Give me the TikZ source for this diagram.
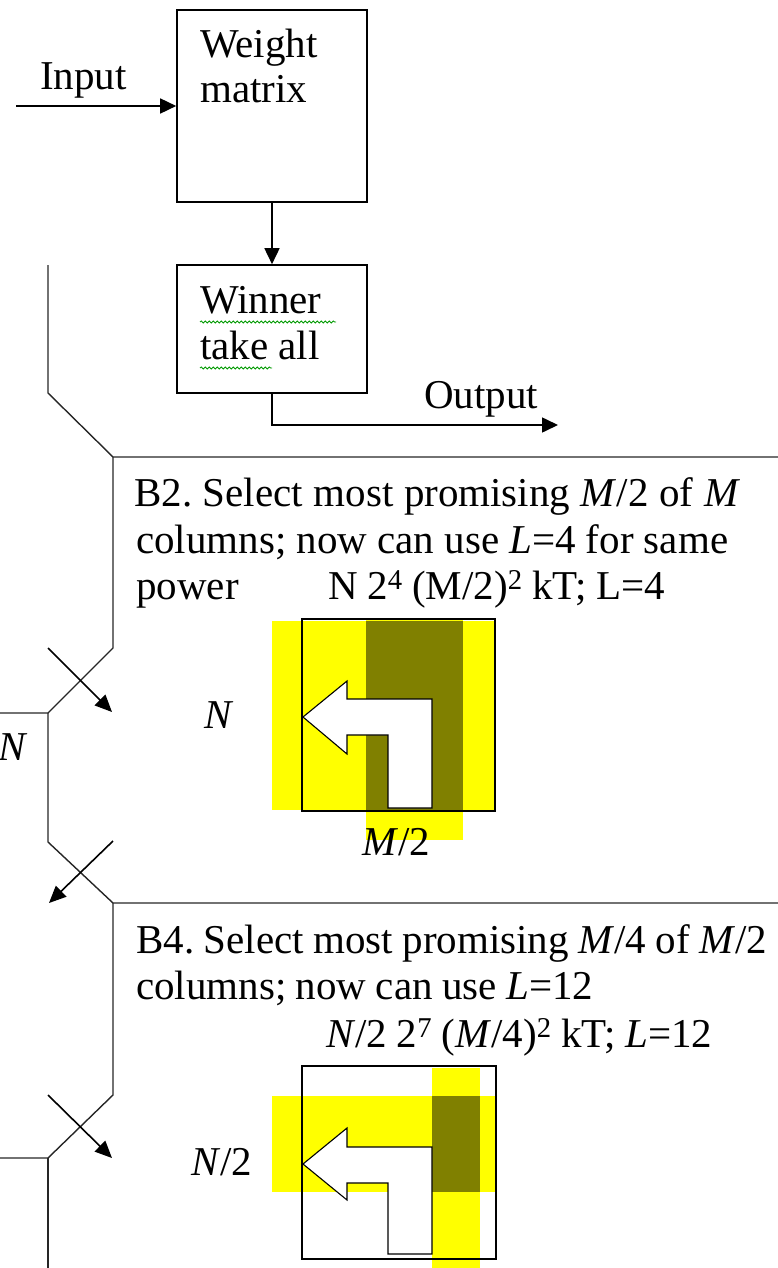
\documentclass[tikz,border=0pt]{standalone}
\usepackage{fontspec}
\setmainfont{Liberation Serif}
\newfontfamily\tnr{Liberation Serif}
\usetikzlibrary{arrows.meta,decorations.pathmorphing}
\definecolor{ylw}{RGB}{255,255,0}
\definecolor{olv}{RGB}{128,128,0}
\frenchspacing
\newcommand{\fitline}[2]{\makebox[#1][s]{#2}}
\begin{document}
\begin{tikzpicture}[x=1pt,y=-1pt,
  box/.style={draw,line width=1.6pt,inner sep=0pt,rectangle},
  lbl/.style={anchor=base west,inner sep=0pt,font=\tnr\fontsize{41}{41}\selectfont},
  ilbl/.style={anchor=base west,inner sep=0pt,font=\tnr\fontsize{41}{41}\selectfont\itshape},
  wire/.style={line width=1.4pt,black!85,line join=miter},
  conn/.style={line width=1.6pt,-{Triangle[length=16pt,width=15pt]}},
  xarrow/.style={line width=1.6pt,-{Triangle[length=17pt,width=15pt]}},
  turn/.style={draw=black,line width=1.1pt,fill=white,line join=miter},
  squig/.style={draw=green!60!black,line width=0.8pt,decorate,decoration={snake,amplitude=1.1pt,segment length=4pt}}
]
\useasboundingbox (0,0) rectangle (777,1268);

% ---- top: weight matrix and winner take all ----
\node[box,minimum width=190pt,minimum height=192pt] (weight) at (272,106) {};
\node[box,minimum width=190pt,minimum height=128pt] (winner) at (272,329) {};
\node[lbl] (tw1) at (200,58) {Weight};
\node[lbl] (tw2) at (200,103) {matrix};
\node[lbl] (tn1) at (200,313) {Winner};
\node[lbl] (tn2) at (200,359) {take all};
\draw[squig] (200,322) -- (336,322);
\draw[squig] (200,368) -- (272,368);
\node[lbl] (tin) at (40,90) {Input};
\node[lbl] (tout) at (424,408) {Output};
\coordinate (inp) at (16,106);
\coordinate (outp) at (558,425);
\draw[conn] (inp) -- (weight.west);
\draw[conn] (weight.south) -- (winner.north);
\draw[conn] (winner.south) |- (outp);

% ---- left wires / section outlines ----
\draw[wire] (48,265) -- (48,393) -- (113,457) -- (778,457);
\draw[wire] (113,457) -- (113,648) -- (48,713) -- (-1,713);
\draw[wire] (48,713) -- (48,842) -- (113,903) -- (778,903);
\draw[wire] (113,903) -- (113,1095) -- (48,1158) -- (-1,1158);
\draw[wire] (48,1158) -- (48,1270);

\coordinate (a1s) at (48,648);  \coordinate (a1e) at (112,712);
\coordinate (a2s) at (113,841); \coordinate (a2e) at (49,903);
\coordinate (a3s) at (48,1095); \coordinate (a3e) at (112,1158);
\draw[xarrow] (a1s) -- (a1e);
\draw[xarrow] (a2s) -- (a2e);
\draw[xarrow] (a3s) -- (a3e);

\node[ilbl] (nleft) at (-2,760) {N};

% ---- B2 ----
\node[lbl] (b2l1) at (134,506) {\fitline{606pt}{B2. Select most promising \textit{M}/2 of \textit{M}}};
\node[lbl] (b2l2) at (136,553) {\fitline{592pt}{columns; now can use \textit{L}=4 for same}};
\node[lbl] (b2l3) at (136,599) {power};
\node[lbl] (b2l4) at (328,599) {\fitline{337pt}{N 2\textsuperscript{4} (M/2)\textsuperscript{2} kT; L=4}};

\fill[ylw] (272,621) rectangle (495,810);
\fill[ylw] (366,619) rectangle (463,840);
\fill[olv] (366,621) rectangle (463,810);
\node[box,minimum width=193pt,minimum height=192pt] (m2) at (398.5,715) {};
\draw[turn] (303,717) -- (347,681) -- (347,699) -- (432,699) -- (432,808) -- (388,808) -- (388,735) -- (347,735) -- (347,754) -- cycle;
\node[ilbl] (n2) at (204,728) {N};
\node[lbl] (mh2) at (362,855) {\textit{M}/2};

% ---- B4 ----
\node[lbl] (b4l1) at (136,953) {\fitline{631pt}{B4. Select most promising \textit{M}/4 of \textit{M}/2}};
\node[lbl] (b4l2) at (136,999) {\fitline{457pt}{columns; now can use \textit{L}=12}};
\node[lbl] (b4l3) at (326,1047) {\fitline{386pt}{\textit{N}/2 2\textsuperscript{7} (\textit{M}/4)\textsuperscript{2} kT; \textit{L}=12}};

\fill[ylw] (272,1096) rectangle (495,1192);
\fill[ylw] (432,1068) rectangle (480,1270);
\fill[olv] (432,1096) rectangle (480,1192);
\node[box,minimum width=194pt,minimum height=193pt] (m4) at (399,1162.5) {};
\draw[turn] (303,1164) -- (347,1128) -- (347,1147) -- (432,1147) -- (432,1254) -- (388,1254) -- (388,1183) -- (347,1183) -- (347,1200) -- cycle;
\node[lbl] (n4) at (191,1175) {\textit{N}/2};
\end{tikzpicture}
\end{document}
